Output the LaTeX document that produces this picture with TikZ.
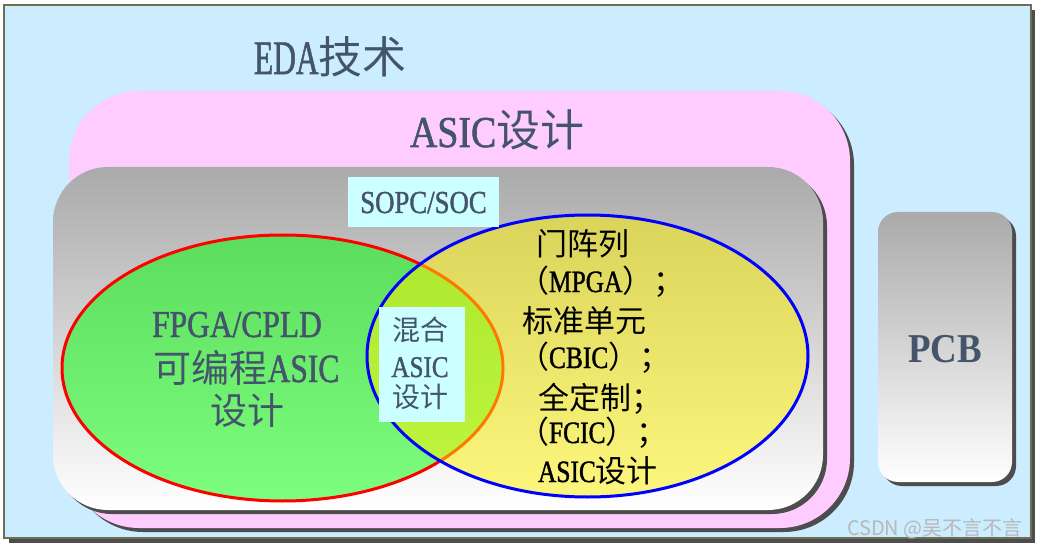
\documentclass[tikz,border=0pt]{standalone}
\usepackage{fontspec}
\usepackage{graphicx}
\setmainfont[FakeStretch=0.82,FakeBold=1.2]{Liberation Serif}
\newfontfamily\cjk{Noto Sans CJK SC}
\newfontfamily\pcbfont[FakeStretch=0.9]{Liberation Serif}
\definecolor{outerbg}{HTML}{CCECFF}
\definecolor{pinkbg}{HTML}{FFCCFF}
\definecolor{cyanbg}{HTML}{CCFFFF}
\definecolor{shadowc}{HTML}{4D4D4D}
\definecolor{borderc}{HTML}{6E6E50}
\definecolor{textc}{HTML}{44546A}
\definecolor{graytop}{HTML}{AAAAAA}
\definecolor{wmark}{HTML}{B8B8B8}
\newcommand\zhtxt[2]{{\cjk\fontsize{#1}{#1}\selectfont #2}}
\newcommand\latxt[3]{{\fontsize{#1}{#1}\selectfont\scalebox{#2}[1]{#3}}}
\begin{document}
\begin{tikzpicture}[x=1pt,y=-1pt,
  lbl/.style={inner sep=0pt, outer sep=0pt, text=textc},
  blk/.style={inner sep=0pt, outer sep=0pt, text=black},
  shadowfill/.style={fill=shadowc},
  grayshade/.style={top color=graytop, bottom color=white},
  labelbox/.style={fill=cyanbg, inner sep=0pt, outer sep=0pt}]
\useasboundingbox (0,0) rectangle (1039,548);
\fill[white] (0,0) rectangle (1039,548);
% outer box (EDA)
\fill[shadowfill] (9,10) rectangle (1035,543);
\draw[fill=outerbg, draw=borderc, line width=1.2pt] (4,5) rectangle (1031,538);
% ASIC box
\fill[shadowfill, rounded corners=70pt] (73,95) rectangle (854,532);
\fill[pinkbg, rounded corners=70pt] (69,91) rectangle (850,528);
% SOPC box
\fill[shadowfill, rounded corners=55pt] (57,171) rectangle (827,514);
\shade[grayshade, rounded corners=55pt] (53,167) rectangle (823,510);
% PCB box
\fill[shadowfill, rounded corners=20pt] (882,216) rectangle (1016,486);
\shade[grayshade, rounded corners=20pt] (878,212) rectangle (1012,482);
% ellipses
\draw[red, line width=3pt, fill=green, fill opacity=0.5] (282.5,368) ellipse [x radius=220.5pt, y radius=133pt];
\draw[blue, line width=3pt, fill=yellow, fill opacity=0.5] (587.5,356) ellipse [x radius=220.5pt, y radius=141pt];
% titles
\node[lbl, anchor=base west] (eda) at (254,74) {\latxt{48}{0.8}{EDA}\zhtxt{44}{技术}};
\node[lbl, anchor=base west] (asic) at (410,147) {\latxt{44}{1.05}{ASIC}\zhtxt{44}{设计}};
\node[labelbox, minimum width=151pt, minimum height=50pt] (sopcbox) at (423.5,202) {};
\node[lbl, anchor=base] (sopc) at (423.5,213) {\latxt{32}{1.02}{SOPC/SOC}};
% FPGA text
\node[lbl, anchor=base] (fpga1) at (237,337) {\latxt{38}{1.01}{FPGA/CPLD}};
\node[lbl, anchor=base] (fpga2) at (246.5,382) {\zhtxt{38}{可编程}\latxt{40}{0.96}{ASIC}};
\node[lbl, anchor=base] (fpga3) at (247.5,424) {\zhtxt{37}{设计}};
% mixed box
\node[labelbox, minimum width=86pt, minimum height=115pt] (mixbox) at (422,364.5) {};
\node[lbl, anchor=base] (mix1) at (420,340) {\zhtxt{28}{混合}};
\node[lbl, anchor=base] (mix2) at (420,377) {\latxt{30}{1.02}{ASIC}};
\node[lbl, anchor=base] (mix3) at (420,407) {\zhtxt{28}{设计}};
% yellow text
\node[blk, anchor=base west] (y1) at (536,255) {\zhtxt{31}{门阵列}};
\node[blk, anchor=base west] (y2) at (518,292) {\zhtxt{31}{（}\latxt{31}{1}{MPGA}\zhtxt{31}{）；}};
\node[blk, anchor=base west] (y3) at (522,332) {\zhtxt{31}{标准单元}};
\node[blk, anchor=base west] (y4) at (518,368) {\zhtxt{31}{（}\latxt{31}{1}{CBIC}\zhtxt{31}{）；}};
\node[blk, anchor=base west] (y5) at (538,409) {\zhtxt{31}{全定制；}};
\node[blk, anchor=base west] (y6) at (518,443) {\zhtxt{31}{（}\latxt{31}{1}{FCIC}\zhtxt{31}{）；}};
\node[blk, anchor=base west] (y7) at (538,482) {\latxt{31}{1}{ASIC}\zhtxt{31}{设计}};
% PCB
\node[lbl, anchor=base] (pcb) at (945,362) {\pcbfont\bfseries\fontsize{41}{41}\selectfont PCB};
% watermark
\node[inner sep=0pt, text=wmark, anchor=base east] (wm) at (1023,535) {\zhtxt{20}{CSDN @吴不言不言}};
\end{tikzpicture}
\end{document}
